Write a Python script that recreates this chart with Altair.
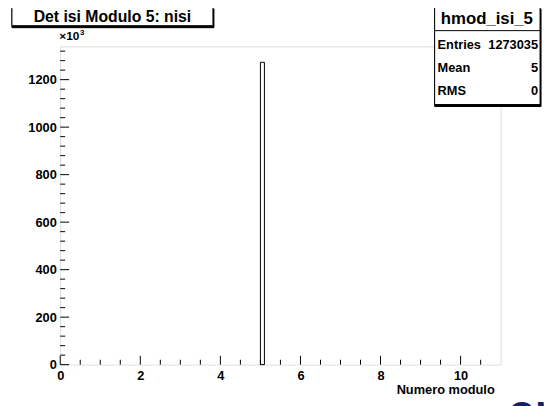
import altair as alt
import pandas as pd

# histogram contents (counts in thousands, axis label shows x10^3)
bin_lo = [5.0]
bin_hi = [5.1]
counts_k = [1273.035]

x_major = [0, 2, 4, 6, 8, 10]
x_minor = [0.5, 1, 1.5, 2.5, 3, 3.5, 4.5, 5, 5.5, 6.5, 7, 7.5, 8.5, 9, 9.5, 10.5]
y_major = [0, 200, 400, 600, 800, 1000, 1200]
y_minor = [v for v in range(40, 1340, 40) if v % 200 != 0]

title_text = "Det isi Modulo 5: nisi"
stats_name = "hmod_isi_5"
stats_rows = [("Entries", "1273035"), ("Mean", "5"), ("RMS", "0")]
x_title = "Numero modulo"

W, H = 447, 323
XDOM = [0, 11]
YDOM = [0, 1340]
FONT = "Liberation Sans"

xs = alt.Scale(domain=XDOM, nice=False, zero=False)
ys = alt.Scale(domain=YDOM, nice=False, zero=False)
xaxis = alt.Axis(values=x_major, tickSize=0, domain=False, grid=False, format="d",
                 labelFont=FONT, labelFontWeight="bold", labelFontSize=13,
                 labelColor="black", labelPadding=5, labelFlush=False, title=None)
yaxis = alt.Axis(values=y_major, tickSize=0, domain=False, grid=False, format="d",
                 labelFont=FONT, labelFontWeight="bold", labelFontSize=13,
                 labelColor="black", labelPadding=4, title=None)

hist = pd.DataFrame({"lo": bin_lo, "hi": bin_hi, "n": counts_k, "z": [0] * len(bin_lo)})

bars = alt.Chart(hist).mark_rect(fill="white", stroke="black", strokeWidth=1).encode(
    x=alt.X("lo:Q", scale=xs, axis=xaxis, title=None),
    x2="hi:Q",
    y=alt.Y("n:Q", scale=ys, axis=yaxis, title=None),
    y2="z:Q",
)

def xticks(vals, length):
    d = pd.DataFrame({"lo": vals})
    return alt.Chart(d).mark_rule(color="black", strokeWidth=1).encode(
        x=alt.X("lo:Q", scale=xs, axis=xaxis, title=None),
        y=alt.value(H), y2=alt.value(H - length))

def yticks(vals, length):
    d = pd.DataFrame({"n": vals})
    return alt.Chart(d).mark_rule(color="black", strokeWidth=1).encode(
        y=alt.Y("n:Q", scale=ys, axis=yaxis, title=None),
        x=alt.value(0), x2=alt.value(length))

one = pd.DataFrame({"a": [0]})
base = alt.Chart(one)

def box(x1, y1, x2, y2, fill="white", stroke="black", sw=1):
    return base.mark_rect(fill=fill, stroke=stroke, strokeWidth=sw).encode(
        x=alt.value(x1), x2=alt.value(x2), y=alt.value(y1), y2=alt.value(y2))

def txt(s, x, y, size, align="center", color="black", weight="bold", baseline="middle"):
    return base.mark_text(text=s, font=FONT, fontSize=size, fontWeight=weight,
                          align=align, baseline=baseline, color=color).encode(
        x=alt.value(x), y=alt.value(y))

layers = [
    bars,
    xticks(x_major, 9), xticks(x_minor, 5),
    yticks(y_major, 9), yticks(y_minor, 5),
    # title box with shadow
    box(-49, -38, 156, -19, fill="black", stroke="black"),
    box(-49, -40, 155, -21),
    txt(title_text, 53, -30, 16),
    # exponent
    txt("\u00d710", -1, -10, 12, align="left"),
    txt("3", 20, -14, 8, align="left"),
    # x axis title
    txt(x_title, 441, 349, 13, align="right"),
    # stats box with shadow
    box(380, -38, 488, 61, fill="black", stroke="black"),
    box(380, -40, 487, 59),
    base.mark_rule(color="black", strokeWidth=1).encode(
        x=alt.value(380), x2=alt.value(487), y=alt.value(-16)),
    txt(stats_name, 433, -28, 17),
]
row_y = [-1, 22, 45]
for (lab, val), yy in zip(stats_rows, row_y):
    layers.append(txt(lab, 383, yy, 13, align="left"))
    layers.append(txt(val, 485, yy, 13, align="right"))

# cut-off slide text at bottom right
layers.append(txt("on", 455, 349, 44, align="left", color="#14206a", baseline="top"))

chart = alt.layer(*layers).properties(
    width=W, height=H,
    autosize=alt.AutoSizeParams(type="none"),
    padding={"left": 53, "top": 36, "right": 44, "bottom": 39},
).configure_view(stroke="black", strokeWidth=1.2).configure(background="white")

chart.save("out.html", embed_options={"renderer": "svg", "actions": False})
